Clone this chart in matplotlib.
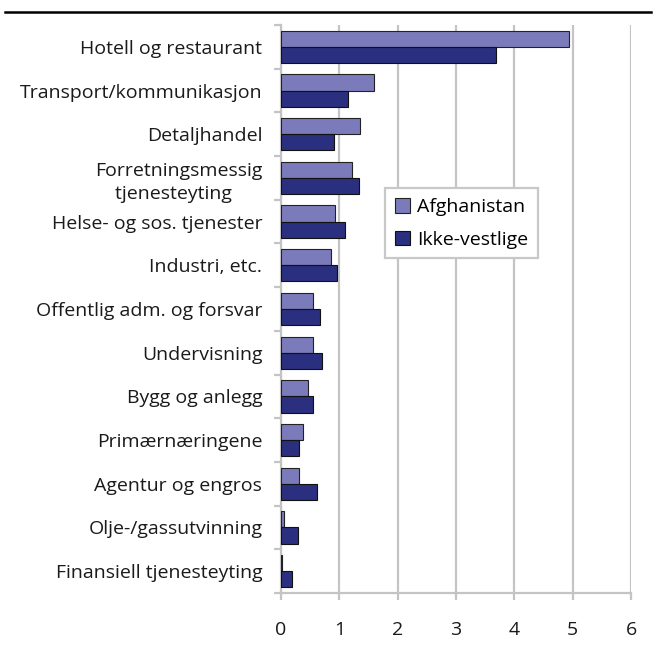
import numpy as np
import matplotlib.pyplot as plt
from matplotlib.lines import Line2D

plt.rcParams['font.family'] = ['Open Sans', 'DejaVu Sans']

# sysselsatte etter næring, prosent
naering = ['Hotell og restaurant', 'Transport/kommunikasjon', 'Detaljhandel',
           'Forretningsmessig\ntjenesteyting  ', 'Helse- og sos. tjenester',
           'Industri, etc.', 'Offentlig adm. og forsvar', 'Undervisning',
           'Bygg og anlegg', 'Primærnæringene', 'Agentur og engros',
           'Olje-/gassutvinning', 'Finansiell tjenesteyting']
afghanistan = [4.94, 1.60, 1.36, 1.21, 0.92, 0.86, 0.54, 0.54, 0.47, 0.38, 0.31, 0.05, 0.02]
ikke_vestlige = [3.68, 1.15, 0.90, 1.33, 1.09, 0.96, 0.66, 0.71, 0.55, 0.30, 0.62, 0.29, 0.18]
xticks = [0, 1, 2, 3, 4, 5, 6]

grid_col = '#c4c4c4'
fs = 14

fig = plt.figure(figsize=(6.56, 6.48), dpi=100)
ax = fig.add_axes([0.4284, 0.0849, 0.5335, 0.8765])

y = np.arange(len(naering))
h = 0.37
ax.barh(y - h / 2, afghanistan, height=h, color='#7b7bbb', edgecolor='#222222',
        linewidth=0.8, label='Afghanistan', zorder=3)
ax.barh(y + h / 2, ikke_vestlige, height=h, color='#2b2f7f', edgecolor='#111111',
        linewidth=0.8, label='Ikke-vestlige', zorder=3)

ax.set_xlim(0, 6)
ax.set_ylim(len(naering) - 0.5, -0.5)
ax.set_xticks(xticks)
ax.set_xticklabels([str(t) for t in xticks])
ax.xaxis.grid(True, color=grid_col, linewidth=1.6, zorder=0)

ax.set_yticks(y)
ax.set_yticklabels(naering, multialignment='center', linespacing=1.35)
ax.set_yticks(np.arange(-0.5, len(naering)), minor=True)
ax.tick_params(axis='y', which='major', length=0, pad=13.5, labelsize=fs, labelcolor='#1a1a1a')
ax.tick_params(axis='y', which='minor', length=5, width=1.6, color=grid_col)
ax.tick_params(axis='x', length=5, width=1.6, color=grid_col, pad=15.5,
               labelsize=fs, labelcolor='#1a1a1a')

for side in ['top', 'right']:
    ax.spines[side].set_visible(False)
for side in ['left', 'bottom']:
    ax.spines[side].set_color(grid_col)
    ax.spines[side].set_linewidth(1.6)

leg = ax.legend(loc='upper left', bbox_to_anchor=(0.297, 0.713), fontsize=fs,
                fancybox=False, framealpha=1, edgecolor='#c8c8c8',
                handlelength=0.8, handleheight=0.8, handletextpad=0.35,
                labelspacing=0.75, borderpad=0.5, borderaxespad=0)
leg.get_frame().set_linewidth(1.6)

# strek over figuren
fig.add_artist(Line2D([0.008, 0.992], [0.981, 0.981], color='black', linewidth=1.8))

fig.savefig('out.png', dpi=100)
